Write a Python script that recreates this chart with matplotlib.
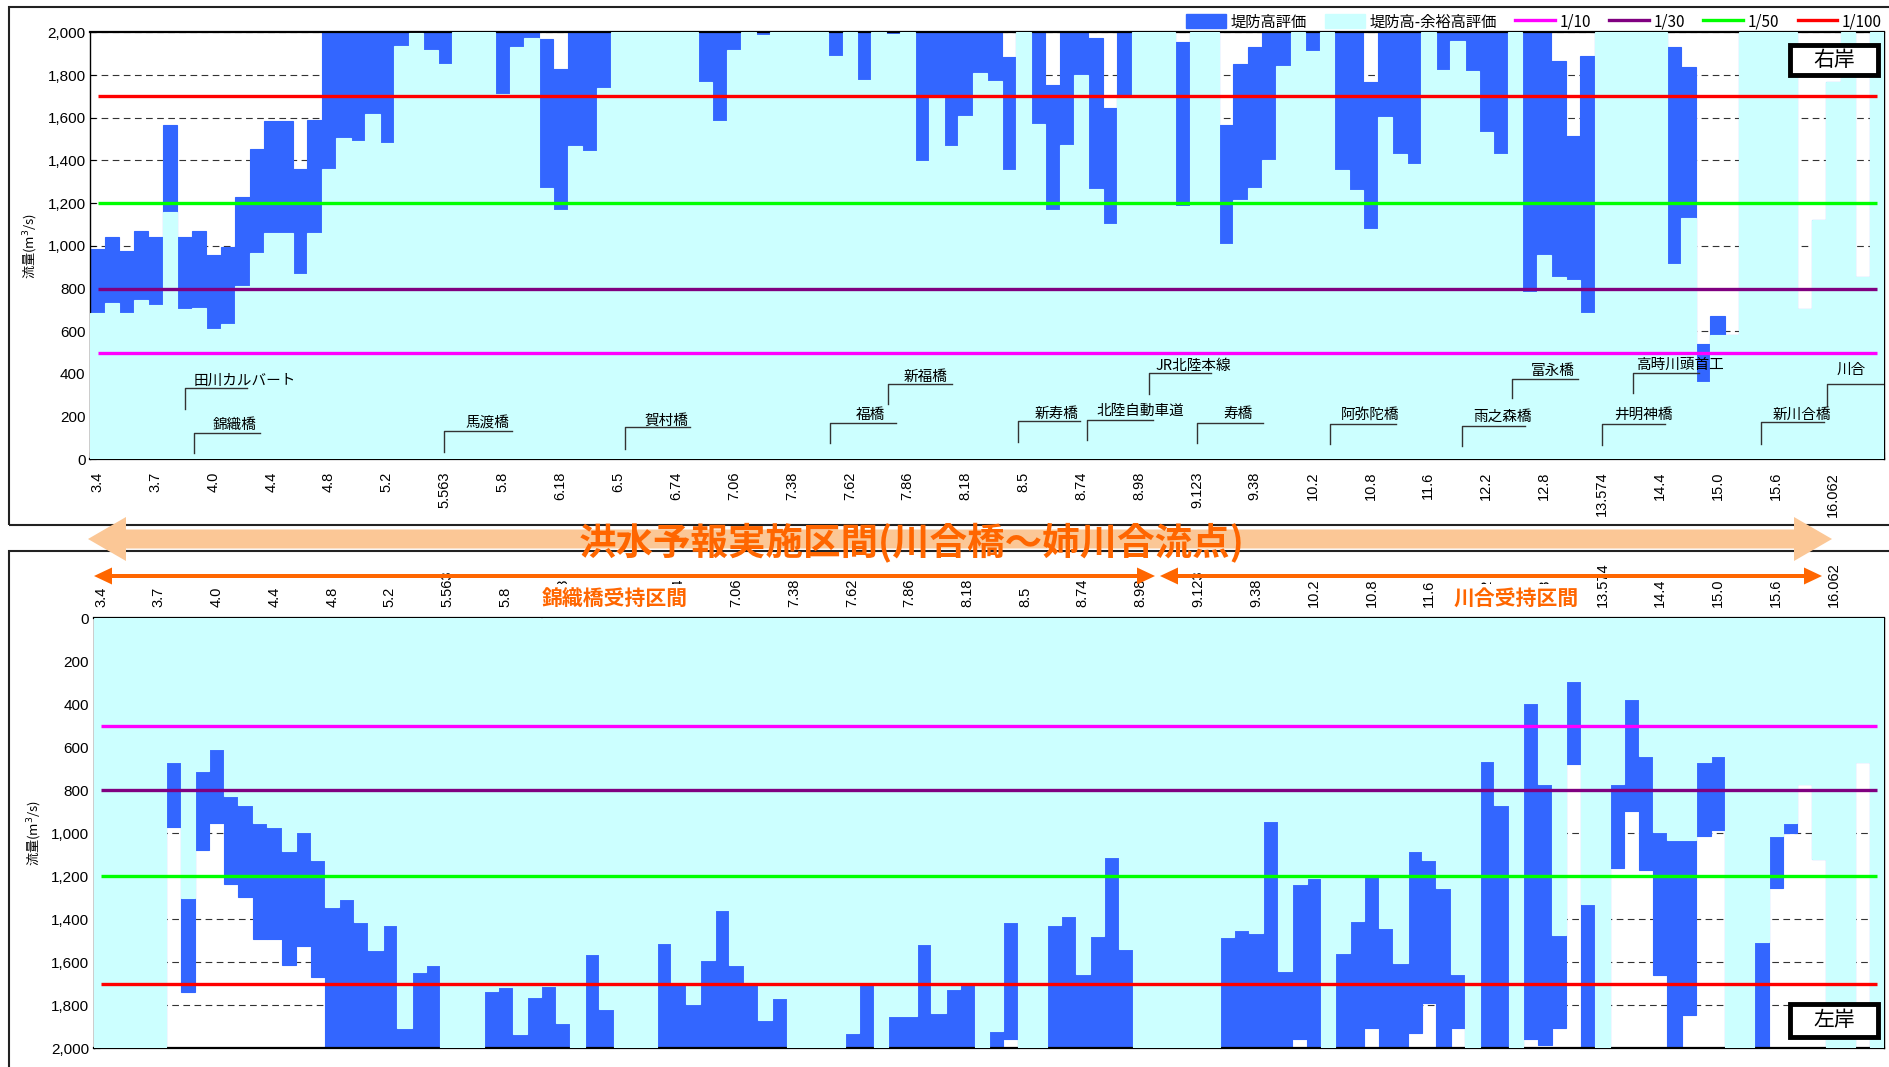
import numpy as np
import matplotlib.pyplot as plt
from matplotlib.patches import Patch, Polygon, Rectangle
from matplotlib.lines import Line2D
from matplotlib.ticker import FuncFormatter

plt.rcParams['font.family'] = ['Noto Sans CJK JP', 'DejaVu Sans']

# 距離標 (every 4th section is labelled)
km_labels = ['3.4', '3.7', '4.0', '4.4', '4.8', '5.2', '5.563', '5.8', '6.18', '6.5',
             '6.74', '7.06', '7.38', '7.62', '7.86', '8.18', '8.5', '8.74', '8.98', '9.123',
             '9.38', '10.2', '10.8', '11.6', '12.2', '12.8', '13.574', '14.4', '15.0', '15.6',
             '16.062']

# 右岸: 堤防高評価 / 堤防高-余裕高評価 (m3/s)
right_levee = [987, 1042, 977, 1067, 1042, 1564, 1039, 1067, 959, 995,
               1227, 1452, 1583, 1583, 1362, 1588, 2000, 2000, 2000, 2000,
               2000, 2000, 1995, 2000, 2000, 2000, 2000, 2000, 2000, 2000,
               2000, 1967, 1827, 2000, 2000, 2000, 2000, 2000, 2000, 2000,
               2000, 2000, 2000, 2000, 2000, 2000, 2000, 2000, 2000, 2000,
               2000, 2000, 2000, 2000, 2000, 2000, 2000, 2000, 2000, 2000,
               2000, 2000, 2000, 1883, 2000, 2000, 1752, 2000, 2000, 1972,
               1644, 2000, 2000, 2000, 2000, 1953, 2000, 2000, 1566, 1850,
               1930, 2000, 2000, 2000, 2000, 2000, 2000, 2000, 1769, 2000,
               2000, 2000, 2000, 2000, 2000, 2000, 2000, 2000, 2000, 2000,
               2000, 1866, 1514, 1888, 2000, 2000, 2000, 2000, 2000, 1930,
               1836, 542, 673, 581, 2000, 2000, 2000, 2000, 702, 1119,
               1769, 2000, 853, 2000]
right_free = [687, 734, 683, 744, 725, 1156, 702, 711, 608, 636,
              811, 964, 1058, 1058, 870, 1058, 1362, 1503, 1489, 1616,
              1480, 1936, 1995, 1917, 1852, 2000, 2000, 2000, 1709, 1930,
              1972, 1269, 1166, 1466, 1442, 1737, 2000, 2000, 2000, 2000,
              2000, 2000, 1769, 1584, 1917, 2000, 1988, 2000, 2000, 2000,
              2000, 1889, 2000, 1777, 2000, 1992, 2000, 1397, 1698, 1467,
              1608, 1808, 1772, 1355, 2000, 1570, 1167, 1470, 1798, 1266,
              1102, 1702, 2000, 2000, 2000, 1186, 2000, 2000, 1008, 1214,
              1269, 1400, 1841, 2000, 1912, 2000, 1355, 1261, 1078, 1602,
              1428, 1381, 2000, 1823, 1959, 1819, 1531, 1428, 2000, 784,
              959, 853, 839, 686, 2000, 2000, 2000, 2000, 2000, 914,
              1130, 362, 581, 581, 2000, 2000, 2000, 2000, 702, 1119,
              1769, 2000, 853, 2000]

# 左岸
left_levee = [2000, 2000, 2000, 2000, 2000, 970, 1739, 1077, 953, 1234,
              1296, 1492, 1492, 1610, 1526, 1666, 2000, 2000, 2000, 2000,
              2000, 2000, 2000, 2000, 2000, 2000, 2000, 2000, 2000, 2000,
              2000, 2000, 2000, 2000, 2000, 2000, 2000, 2000, 2000, 2000,
              2000, 2000, 2000, 2000, 2000, 2000, 2000, 2000, 2000, 2000,
              2000, 2000, 2000, 2000, 2000, 2000, 2000, 2000, 2000, 2000,
              2000, 2000, 2000, 1957, 2000, 2000, 2000, 2000, 2000, 2000,
              2000, 2000, 2000, 2000, 2000, 2000, 2000, 2000, 2000, 2000,
              2000, 2000, 2000, 1957, 2000, 2000, 2000, 2000, 1907, 2000,
              2000, 1929, 1789, 2000, 1907, 2000, 2000, 2000, 2000, 1957,
              1985, 1907, 679, 2000, 2000, 1161, 897, 1172, 1660, 2000,
              1845, 1010, 982, 2000, 2000, 2000, 1256, 998, 770, 1120,
              2000, 2000, 670, 2000]
left_free = [2000, 2000, 2000, 2000, 2000, 667, 1301, 712, 606, 824,
             869, 953, 970, 1082, 993, 1122, 1340, 1307, 1413, 1542,
             1425, 1907, 1643, 1610, 2000, 2000, 2000, 1733, 1716, 1935,
             1761, 1711, 1884, 2000, 1559, 1817, 2000, 2000, 2000, 1509,
             1694, 1795, 1587, 1357, 1610, 1694, 1868, 1767, 2000, 2000,
             2000, 2000, 1929, 1694, 2000, 1851, 1851, 1514, 1834, 1722,
             1694, 2000, 1918, 1413, 2000, 2000, 1425, 1385, 1655, 1475,
             1110, 1537, 2000, 2000, 2000, 2000, 2000, 2000, 1481, 1447,
             1464, 942, 1638, 1234, 1206, 2000, 1554, 1408, 1189, 1441,
             1604, 1082, 1122, 1256, 1655, 2000, 662, 869, 2000, 393,
             768, 1473, 292, 1329, 2000, 768, 376, 639, 993, 1032,
             1032, 667, 639, 2000, 2000, 1503, 1010, 953, 770, 1120,
             2000, 2000, 670, 2000]

# 確率規模別流量
level_names = ['1/10', '1/30', '1/50', '1/100']
level_flows = [500, 800, 1200, 1700]
level_colors = ['#FF00FF', '#800080', '#00FF00', '#FF0000']

# 構造物 (name, x of leader, leader bottom, leader top, end of underline, text x, text y)
structures = [
    ('田川カルバート', 6.02, 236, 335, 10.34, 10.17, 369),
    ('錦織橋', 6.66, 30, 124, 11.22, 9.47, 161),
    ('馬渡橋', 23.98, 34, 132, 28.66, 26.97, 166),
    ('賀村橋', 36.49, 50, 152, 40.92, 39.36, 181),
    ('福橋', 50.66, 77, 171, 55.2, 53.45, 207),
    ('新福橋', 54.62, 257, 355, 59.04, 57.21, 385),
    ('新寿橋', 63.61, 81, 181, 67.94, 66.31, 213),
    ('北陸自動車道', 68.39, 92, 186, 72.98, 72.07, 226),
    ('JR北陸本線', 72.66, 304, 402, 76.96, 75.78, 437),
    ('寿橋', 75.98, 77, 171, 80.59, 78.81, 210),
    ('阿弥陀橋', 85.19, 72, 166, 89.75, 87.97, 207),
    ('雨之森橋', 94.31, 61, 158, 98.66, 97.12, 197),
    ('富永橋', 97.77, 285, 374, 102.37, 100.61, 414),
    ('井明神橋', 103.97, 69, 166, 108.34, 106.83, 207),
    ('高時川頭首工', 106.15, 312, 402, 110.72, 109.39, 440),
    ('新川合橋', 115.02, 72, 174, 119.35, 117.85, 210),
    ('川合', 119.58, 249, 354, 124.5, 121.2, 421),
]

BLUE = '#3366FF'
CYAN = '#CCFFFF'
ORANGE = '#FF6600'
W, H = 1890, 1067

n = len(right_levee)
x = np.arange(n)


def fig_xy(px, py):
    return px / W, 1 - py / H


def draw_bank(ax, levee, free):
    # edge lines of the same colour close the hairline gaps between touching bars
    ax.bar(x, levee, width=1.0, color=BLUE, edgecolor=BLUE, linewidth=0.8, zorder=2)
    ax.bar(x, free, width=1.0, color=CYAN, edgecolor=CYAN, linewidth=0.8, zorder=3)
    for flow, c in zip(level_flows, level_colors):
        ax.hlines(flow, 0, n - 1, colors=c, linewidth=2.4, zorder=4)
    ax.set_xlim(-0.5, n - 0.5)
    ax.set_yticks(np.arange(0, 2001, 200))
    ax.yaxis.set_major_formatter(FuncFormatter(lambda v, p: f'{v:,.0f}'))
    ax.yaxis.grid(True, linestyle=(0, (6, 4)), color='#333333', linewidth=0.8)
    ax.set_axisbelow(True)
    ax.set_xticks(np.arange(0, n, 4))
    ax.set_xticklabels(km_labels, rotation=90, fontsize=10.5, family='Liberation Sans')
    ax.set_xticks(np.arange(-0.5, n, 1), minor=True)
    ax.tick_params(axis='x', which='major', length=0)
    ax.tick_params(axis='x', which='minor', direction='in', length=5, width=0.8)
    ax.tick_params(axis='y', direction='in', length=4, labelsize=11)
    for lbl in ax.get_yticklabels():
        lbl.set_family('Liberation Sans')
    ax.set_ylabel('流量(m$^3$/s)', fontsize=9.5, labelpad=5)
    for s in ax.spines.values():
        s.set_linewidth(1.0)
    ax.spines['bottom'].set_linewidth(1.6)
    ax.spines['top'].set_linewidth(1.6)


fig = plt.figure(figsize=(W / 100, H / 100), dpi=100)

# panel frames
for (x0, y0, x1, y1) in [(9, 7, 1895, 525), (9, 551, 1895, 1075)]:
    fx0, fy1 = fig_xy(x0, y0)
    fx1, fy0 = fig_xy(x1, y1)
    fig.add_artist(Rectangle((fx0, fy0), fx1 - fx0, fy1 - fy0, transform=fig.transFigure,
                             fill=False, edgecolor='#222222', linewidth=1.5, zorder=0))

ax_r = fig.add_axes([90.4 / W, 1 - 459.3 / H, (1884 - 90.4) / W, (459.3 - 32.3) / H])
draw_bank(ax_r, right_levee, right_free)
ax_r.set_ylim(0, 2000)
ax_r.tick_params(axis='x', which='major', pad=9)

for name, lx, ly0, ly1, hx, tx, ty in structures:
    ax_r.plot([lx, lx, hx], [ly0, ly1, ly1], color='#333333', linewidth=1.0,
              zorder=5, clip_on=True)
    ax_r.text(tx, ty, name, ha='center', va='center', fontsize=10.5, zorder=6)

ax_l = fig.add_axes([94 / W, 1 - 1048.4 / H, (1884 - 94) / W, (1048.4 - 618.4) / H])
draw_bank(ax_l, left_levee, left_free)
ax_l.set_ylim(2000, 0)
ax_l.xaxis.tick_top()
ax_l.tick_params(axis='x', which='major', pad=8)
ax_l.tick_params(axis='x', which='minor', length=0)

# legend
handles = [Patch(color=BLUE), Patch(color=CYAN)] + \
          [Line2D([], [], color=c, linewidth=2.4) for c in level_colors]
labels = ['堤防高評価', '堤防高-余裕高評価'] + level_names
fig.legend(handles, labels, loc='center right', bbox_to_anchor=fig_xy(1888, 22),
           ncol=6, frameon=False, fontsize=11, handlelength=2.6, handleheight=1.0,
           columnspacing=1.2, handletextpad=0.3, borderaxespad=0)

# bank labels
for label, y0, y1 in [('右岸', 45, 75), ('左岸', 1004, 1037)]:
    fx0, fy1 = fig_xy(1790, y0)
    fx1, fy0 = fig_xy(1878, y1)
    fig.add_artist(Rectangle((fx0, fy0), fx1 - fx0, fy1 - fy0, transform=fig.transFigure,
                             facecolor='white', edgecolor='black', linewidth=3.5, zorder=10))
    fig.text((fx0 + fx1) / 2, (fy0 + fy1) / 2, label, ha='center', va='center',
             fontsize=15, zorder=11)


def double_arrow(x0, x1, y, shaft, head_w, head_l, color):
    pts = [(x0, y), (x0 + head_l, y - head_w / 2), (x0 + head_l, y - shaft / 2),
           (x1 - head_l, y - shaft / 2), (x1 - head_l, y - head_w / 2), (x1, y),
           (x1 - head_l, y + head_w / 2), (x1 - head_l, y + shaft / 2),
           (x0 + head_l, y + shaft / 2), (x0 + head_l, y + head_w / 2)]
    poly = Polygon([fig_xy(px, py) for px, py in pts], closed=True,
                   transform=fig.transFigure, facecolor=color, edgecolor='none', zorder=8)
    fig.add_artist(poly)


# 洪水予報実施区間
double_arrow(88, 1832, 539, 19, 44, 38, '#FBC796')
fx, fy = fig_xy(912, 542)
fig.text(fx, fy, '洪水予報実施区間(川合橋～姉川合流点)', ha='center', va='center',
         fontsize=27, fontweight='bold', color=ORANGE, zorder=9)

# 受持区間
double_arrow(94, 1155, 576, 4, 17, 18, ORANGE)
double_arrow(1160, 1822, 576, 4, 17, 18, ORANGE)
for text, cx in [('錦織橋受持区間', 615), ('川合受持区間', 1516)]:
    fx, fy = fig_xy(cx, 598)
    fig.text(fx, fy, text, ha='center', va='center', fontsize=15,
             fontweight='bold', color=ORANGE, zorder=9,
             bbox=dict(boxstyle='square,pad=0.15', facecolor='white', edgecolor='none'))

fig.savefig('out.png', dpi=100)
